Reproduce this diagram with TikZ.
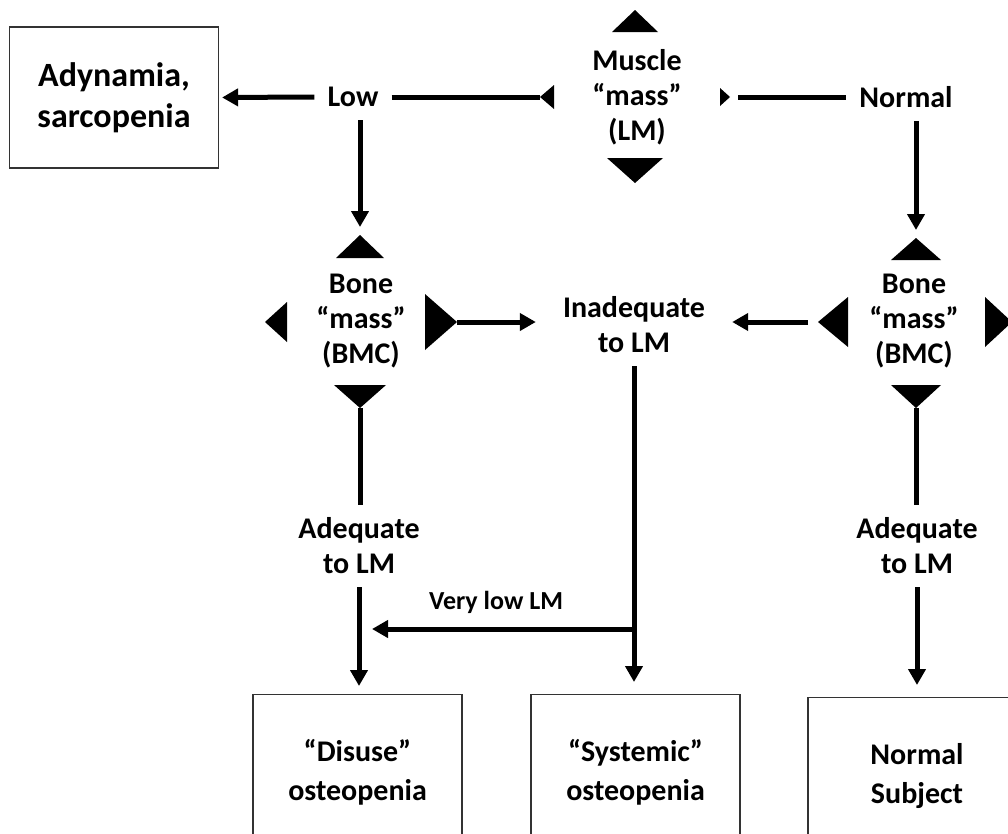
\documentclass[tikz,border=0pt]{standalone}
\usepackage{fontspec}
\setmainfont{Carlito}
\usetikzlibrary{arrows.meta}

\begin{document}
\begin{tikzpicture}[x=1pt, y=-1pt, >={Triangle[length=16pt,width=17pt]},
  txt/.style={font=\fontsize{30}{35}\selectfont\bfseries, align=center, inner sep=13pt},
  outbox/.style={draw=black!80, line width=1.2pt, align=center, minimum width=209pt,
    font=\fontsize{30}{39}\selectfont\bfseries},
  link/.style={line width=5pt}]

  \useasboundingbox (0,0) rectangle (1008,833);
  \clip (0,0) rectangle (1008,833);

  % boxes and labels
  \node[outbox, minimum height=141pt, font=\fontsize{34}{41}\selectfont\bfseries] (adyn) at (114,97.5) {Adynamia,\\sarcopenia};
  \node[txt] (low) at (353,97) {Low};
  \node[txt] (muscle) at (637,97) {Muscle\\“mass”\\(LM)};
  \node[txt] (normal) at (906,97) {Normal};
  \node[txt] (boneL) at (361,321) {Bone\\“mass”\\(BMC)};
  \node[txt] (boneR) at (914,321) {Bone\\“mass”\\(BMC)};
  \node[txt, inner xsep=27pt] (inadq) at (634,325) {Inadequate\\to LM};
  \node[txt] (adeqL) at (359,546) {Adequate\\to LM};
  \node[txt] (adeqR) at (917,546) {Adequate\\to LM};
  \node[outbox, anchor=north, minimum height=156pt] (disuse) at (357.5,694) {“Disuse”\\osteopenia};
  \node[outbox, anchor=north, minimum height=156pt] (systemic) at (635.5,694) {“Systemic”\\osteopenia};
  \node[outbox, anchor=north, minimum height=156pt, minimum width=218pt] (subject) at (917,697) {Normal\\Subject};
  \node[font=\fontsize{26}{30}\selectfont\bfseries] (vlow) at (496,602) {Very low LM};

  % markers round muscle mass
  \coordinate (mN) at (635,10);
  \coordinate (mS) at (635,183);
  \coordinate (mW) at (540,97);
  \coordinate (mE) at (730,97);
  \fill (mN) -- ++(-23,22) -- ++(46,0) -- cycle;
  \fill (mS) -- ++(-28,-25) -- ++(56,0) -- cycle;
  \fill (mW) -- ++(14,-12) -- ++(0,24) -- cycle;
  \fill (mE) -- ++(-10,-9) -- ++(0,18) -- cycle;

  % markers round bone mass, left
  \coordinate (bLN) at (360,235);
  \coordinate (bLS) at (360,408);
  \coordinate (bLW) at (265,322);
  \coordinate (bLE) at (457,322);
  \fill (bLN) -- ++(-24,23) -- ++(48,0) -- cycle;
  \fill (bLS) -- ++(-26,-23) -- ++(52,0) -- cycle;
  \fill (bLW) -- ++(22,-20) -- ++(0,40) -- cycle;
  \fill (bLE) -- ++(-32,-28) -- ++(0,56) -- cycle;

  % markers round bone mass, right
  \coordinate (bRN) at (916,238);
  \coordinate (bRS) at (916,408);
  \coordinate (bRW) at (818,322);
  \coordinate (bRE) at (1012,322);
  \fill (bRN) -- ++(-25,22) -- ++(50,0) -- cycle;
  \fill (bRS) -- ++(-25,-23) -- ++(50,0) -- cycle;
  \fill (bRW) -- ++(30,-25) -- ++(0,50) -- cycle;
  \fill (bRE) -- ++(-27,-25) -- ++(0,50) -- cycle;

  % connectors
  \draw[link, ->, shorten >=3pt] (low.west) -- (adyn.east);
  \draw[link] (low.east) -- (mW);
  \draw[link, shorten <=8pt] (mE) -- (normal.west);
  \draw[link, ->, shorten >=8pt] (low.south -| bLN) -- (bLN);
  \draw[link, ->, shorten >=8pt] (normal.south -| bRN) -- (bRN);
  \draw[link, ->] (bLE) -- (bLE -| inadq.west);
  \draw[link, ->, shorten <=10pt] (bRW) -- (bRW -| inadq.east);
  \draw[link] (bLS) -- (adeqL.north -| bLS);
  \draw[link] (bRS) -- (adeqR.north -| bRS);
  \draw[link, ->, shorten >=8pt] (adeqL.south) -- (adeqL.south |- disuse.north);
  \draw[link, ->, shorten >=12pt] (adeqR.south) -- (adeqR.south |- subject.north);
  \draw[link, ->, shorten >=12pt] (inadq.south) -- (inadq.south |- systemic.north);
  \coordinate (fork) at (inadq.south |- 0,629);
  \draw[link, ->, shorten >=13pt] (fork) -- (fork -| adeqL.south);
\end{tikzpicture}
\end{document}
